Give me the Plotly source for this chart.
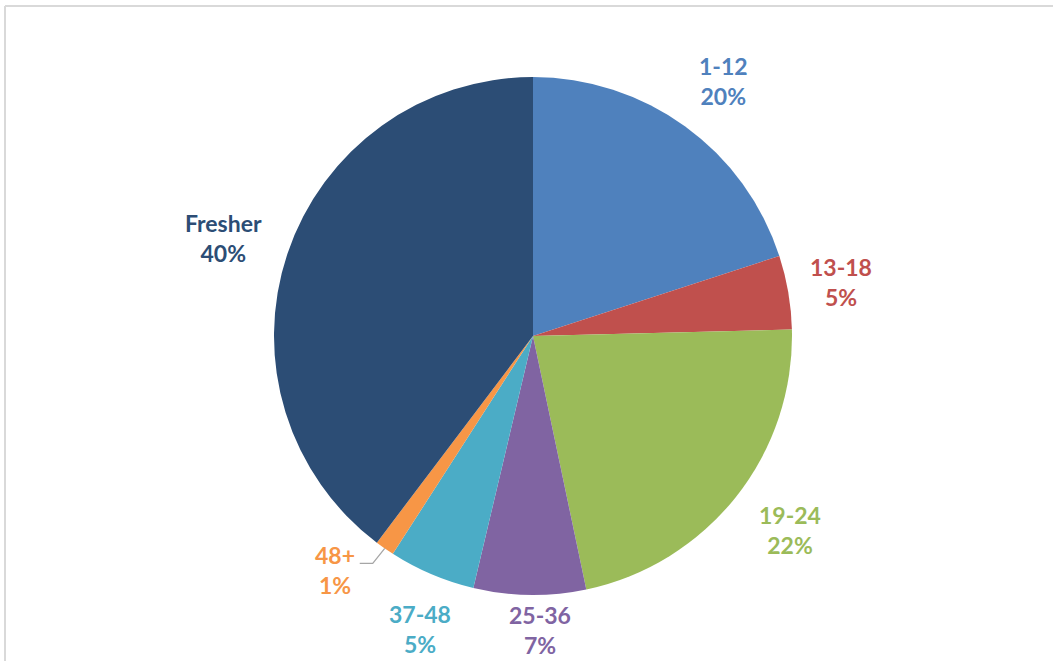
import math
import plotly.graph_objects as go

# ---- data ----
categories = ["1-12", "13-18", "19-24", "25-36", "37-48", "48+", "Fresher"]
values = [20, 4.6, 22.1, 7, 5.4, 1.2, 39.7]
colors = ["#4F81BD", "#C0504D", "#9BBB59", "#8064A2", "#4BACC6", "#F79646", "#2C4D75"]

# ---- layout constants (pixels) ----
W, H = 1053, 661
CX, CY, R = 533, 336, 259
label_r = [1.232, 1.208, 1.239, 1.135, 1.216, 1.0, 1.251]
label_dx = [3, 0, 5, 11, 10, 0, -2]
label_dy = [3, -1, -5, 0, 3, 0, 5]
FONT = "Lato"
FS = 23


def to_paper(px, py):
    return px / W, 1 - py / H


fig = go.Figure(go.Pie(
    labels=categories,
    values=values,
    marker=dict(colors=colors, line=dict(width=0)),
    sort=False,
    direction="clockwise",
    rotation=0,
    textinfo="none",
    hoverinfo="label+percent",
    showlegend=False,
    domain=dict(x=[(CX - R) / W, (CX + R) / W], y=[1 - (CY + R) / H, 1 - (CY - R) / H]),
))

total = sum(values)
cum = 0.0
annotations = []
shapes = [
    dict(type="line", xref="paper", yref="paper", x0=5 / W, x1=5 / W, y0=0, y1=1 - 6 / H,
         line=dict(color="#D9D9D9", width=2)),
    dict(type="line", xref="paper", yref="paper", x0=5 / W, x1=1, y0=1 - 6 / H, y1=1 - 6 / H,
         line=dict(color="#D9D9D9", width=2)),
]
for i, (cat, v, col) in enumerate(zip(categories, values, colors)):
    mid = (cum + v / 2) / total * 2 * math.pi
    cum += v
    pct = f"{round(v / total * 100):.0f}%"
    txt = f"<b>{cat}</b><br><b>{pct}</b>"
    if cat == "48+":
        ex = CX + R * math.sin(mid)
        ey = CY - R * math.cos(mid)
        # leader line: edge -> elbow -> end
        p0 = to_paper(ex, ey)
        p1 = to_paper(ex - 12, ey + 15)
        p2 = to_paper(ex - 25, ey + 15)
        shapes.append(dict(type="path", xref="paper", yref="paper",
                           path=f"M{p0[0]},{p0[1]} L{p1[0]},{p1[1]} L{p2[0]},{p2[1]}",
                           line=dict(color="#A6A6A6", width=1.3)))
        tx, ty = to_paper(ex - 50, ey + 22)
        annotations.append(dict(
            x=tx, y=ty, xref="paper", yref="paper", text=txt, showarrow=False,
            xanchor="center", yanchor="middle",
            font=dict(family=FONT, size=FS, color=col), align="center",
        ))
        continue
    rr = R * label_r[i]
    px = CX + rr * math.sin(mid) + label_dx[i]
    py = CY - rr * math.cos(mid) + label_dy[i]
    x, y = to_paper(px, py)
    annotations.append(dict(
        x=x, y=y, xref="paper", yref="paper",
        text=txt, showarrow=False, xanchor="center", yanchor="middle",
        font=dict(family=FONT, size=FS, color=col), align="center",
    ))

fig.update_layout(
    width=W, height=H,
    margin=dict(l=0, r=0, t=0, b=0),
    paper_bgcolor="white",
    annotations=annotations,
    shapes=shapes,
)

fig.write_html("out.html", config={"displayModeBar": False},
               post_script="document.body.style.margin='0';document.body.style.overflow='hidden';")
